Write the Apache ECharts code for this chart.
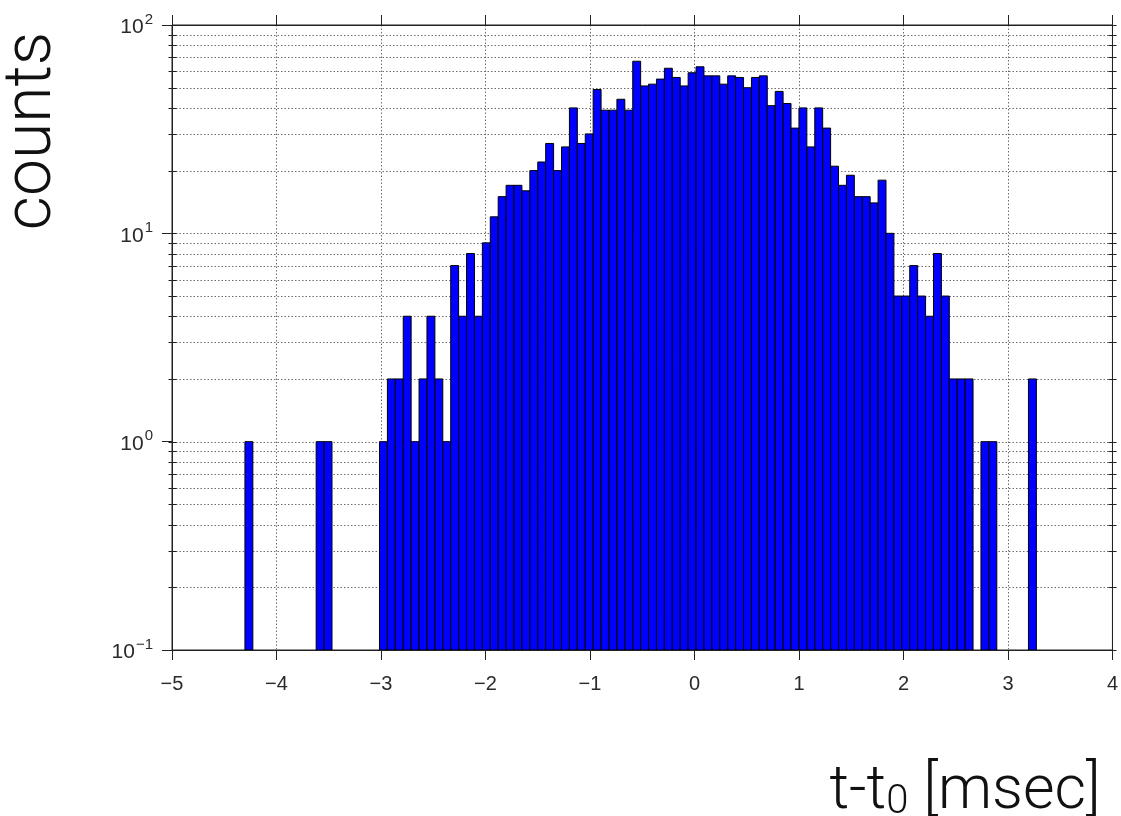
<!DOCTYPE html>
<html>
<head>
<meta charset="utf-8">
<title>counts vs t-t0</title>
<script src="https://cdn.jsdelivr.net/npm/echarts@6/dist/echarts.min.js"></script>
<style>
  html, body { margin: 0; padding: 0; background: #ffffff; }
  #chart { width: 1121px; height: 816px; }
</style>
</head>
<body>
<div id="chart"></div>
<script>
// Histogram of arrival-time offsets: 100 equal bins between the smallest and largest offset [msec]
const binLow = -4.302;
const binHigh = 3.272;
const counts = [
  1, 0, 0, 0, 0, 0, 0, 0, 0, 1,
  1, 0, 0, 0, 0, 0, 0, 1, 2, 2,
  4, 1, 2, 4, 2, 1, 7, 4, 8, 4,
  9, 12, 15, 17, 17, 16, 20, 22, 27, 20,
  26, 40, 27, 30, 49, 39, 39, 44, 39, 67,
  51, 52, 55, 62, 56, 51, 59, 63, 57, 57,
  52, 57, 56, 50, 56, 57, 41, 48, 42, 32,
  40, 26, 40, 32, 21, 17, 19, 15, 15, 14,
  18, 10, 5, 5, 7, 5, 4, 8, 5, 2,
  2, 2, 0, 1, 1, 0, 0, 0, 0, 2
];

// Axis ranges and tick values
const xMin = -5, xMax = 4, xStep = 1;
const yMin = 0.1, yMax = 100;
const yMajorTicks = [0.1, 1, 10, 100];
const yMinorTicks = [
  0.2, 0.3, 0.4, 0.5, 0.6, 0.7, 0.8, 0.9,
  2, 3, 4, 5, 6, 7, 8, 9,
  20, 30, 40, 50, 60, 70, 80, 90
];

const xTitle = ['t-t', '0', ' [msec]'];
const yTitle = 'counts';

const binWidth = (binHigh - binLow) / counts.length;
const barData = [];
counts.forEach(function (c, i) {
  if (c > 0) barData.push([binLow + i * binWidth, binLow + (i + 1) * binWidth, c]);
});
const tickData = yMajorTicks.map(function (v) { return [v, 1]; })
  .concat(yMinorTicks.map(function (v) { return [v, 0]; }));

const labelFont = '"Liberation Sans", Arial, Helvetica, sans-serif';
const titleFont = 'Roboto, "Helvetica Neue", "Liberation Sans", sans-serif';
const gridDash = [1.5, 2];
const gridColor = '#6e6e6e';
const axisColor = '#222';
const labelColor = '#2a2a2a';

function minusText(n) {
  return n < 0 ? '\u2212' + Math.abs(n) : String(n);
}

const chart = echarts.init(document.getElementById('chart'), null, { renderer: 'canvas' });

chart.setOption({
  animation: false,
  backgroundColor: '#ffffff',
  grid: {
    left: 172, top: 25, width: 941, height: 625,
    show: true, borderColor: axisColor, borderWidth: 1, backgroundColor: 'transparent'
  },
  xAxis: [
    {
      type: 'value', position: 'bottom', min: xMin, max: xMax, interval: xStep,
      axisLine: { show: true, onZero: false, lineStyle: { color: axisColor, width: 1 } },
      axisTick: { show: true, inside: false, length: 10, lineStyle: { color: axisColor } },
      axisLabel: {
        margin: 24, color: labelColor, fontSize: 20, fontFamily: labelFont,
        formatter: function (v) { return minusText(v); }
      },
      splitLine: { show: true, lineStyle: { color: gridColor, type: gridDash, width: 1 } }
    },
    {
      type: 'value', position: 'top', min: xMin, max: xMax, interval: xStep,
      axisLine: { show: true, onZero: false, lineStyle: { color: axisColor, width: 1 } },
      axisTick: { show: true, inside: false, length: 10, lineStyle: { color: axisColor } },
      axisLabel: { show: false },
      splitLine: { show: false }
    }
  ],
  yAxis: [
    {
      type: 'log', logBase: 10, position: 'left', min: yMin, max: yMax,
      axisLine: { show: true, onZero: false, lineStyle: { color: axisColor, width: 1 } },
      axisTick: { show: true, inside: false, length: 10, lineStyle: { color: axisColor } },
      axisLabel: {
        margin: 19, color: labelColor, fontFamily: labelFont,
        formatter: function (v) {
          const e = Math.round(Math.log10(v));
          return '{b|10}{s|' + minusText(e) + '}';
        },
        rich: {
          b: { fontSize: 21, fontFamily: labelFont, color: labelColor, lineHeight: 26, verticalAlign: 'bottom' },
          s: { fontSize: 15, fontFamily: labelFont, color: labelColor, lineHeight: 26, verticalAlign: 'top', padding: [0, 0, 9, 1] }
        }
      },
      splitLine: { show: false }
    },
    {
      type: 'log', logBase: 10, position: 'right', min: yMin, max: yMax,
      axisLine: { show: true, onZero: false, lineStyle: { color: axisColor, width: 1 } },
      axisTick: { show: false },
      axisLabel: { show: false },
      splitLine: { show: false }
    }
  ],
  series: [
    {
      // horizontal grid lines and short tick crosses on both vertical axes
      type: 'custom',
      name: 'ygrid',
      xAxisIndex: 0, yAxisIndex: 0,
      silent: true,
      z: 1,
      data: tickData,
      encode: { y: 0 },
      renderItem: function (params, api) {
        const v = api.value(0);
        const pL = api.coord([xMin, v]);
        const pR = api.coord([xMax, v]);
        const y = Math.round(pL[1]) + 0.5;
        const xl = Math.round(pL[0]) + 0.5;
        const xr = Math.round(pR[0]) + 0.5;
        const children = [];
        if (v > yMin && v < yMax) {
          children.push({
            type: 'line',
            shape: { x1: xl, y1: y, x2: xr, y2: y },
            style: { stroke: gridColor, lineWidth: 1, lineDash: gridDash }
          });
        }
        const half = 4;
        children.push({
          type: 'line',
          shape: { x1: xl - half, y1: y, x2: xl + half, y2: y },
          style: { stroke: axisColor, lineWidth: 1 }
        });
        children.push({
          type: 'line',
          shape: { x1: xr - half, y1: y, x2: xr + half, y2: y },
          style: { stroke: axisColor, lineWidth: 1 }
        });
        return { type: 'group', children: children };
      }
    },
    {
      // histogram bars, one rectangle per non-empty bin
      type: 'custom',
      name: 'counts',
      xAxisIndex: 0, yAxisIndex: 0,
      z: 3,
      clip: true,
      data: barData,
      encode: { x: [0, 1], y: 2 },
      renderItem: function (params, api) {
        const p0 = api.coord([api.value(0), api.value(2)]);
        const p1 = api.coord([api.value(1), yMin]);
        return {
          type: 'rect',
          shape: {
            x: p0[0], y: p0[1],
            width: p1[0] - p0[0], height: p1[1] - p0[1]
          },
          style: { fill: '#0000ff', stroke: '#000000', lineWidth: 1 }
        };
      }
    }
  ],
  graphic: [
    {
      type: 'text',
      x: 33, y: 131,
      rotation: Math.PI / 2,
      style: {
        text: yTitle,
        fill: '#111',
        font: '300 66px ' + titleFont,
        align: 'center',
        verticalAlign: 'middle'
      }
    },
    {
      type: 'text',
      x: 965, y: 788,
      style: {
        text: '{m|' + xTitle[0] + '}{s|' + xTitle[1] + '}{m|' + xTitle[2] + '}',
        align: 'center',
        verticalAlign: 'middle',
        rich: {
          m: { fontSize: 61, fontWeight: 300, fontFamily: titleFont, fill: '#111', lineHeight: 70, verticalAlign: 'bottom' },
          s: { fontSize: 40, fontWeight: 300, fontFamily: titleFont, fill: '#111', lineHeight: 54, verticalAlign: 'bottom' }
        }
      }
    }
  ]
});
</script>
</body>
</html>
